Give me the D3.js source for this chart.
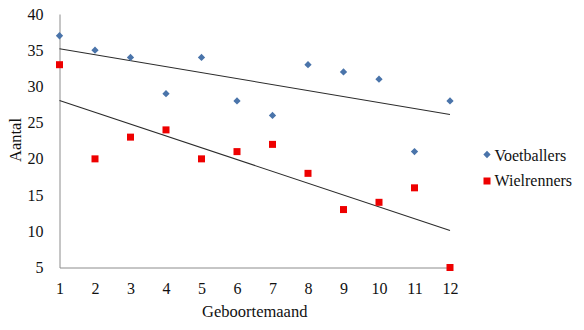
<!DOCTYPE html>
<html>
<head>
<meta charset="utf-8">
<script src="https://cdn.jsdelivr.net/npm/d3@7"></script>
<style>
  html, body { margin: 0; padding: 0; background: #fff; }
  svg { display: block; }
</style>
</head>
<body>
<svg id="chart" width="584" height="330"></svg>
<script>
// Birth month (1–12) of footballers and cyclists
const months = [1, 2, 3, 4, 5, 6, 7, 8, 9, 10, 11, 12];
const voetballers = [37, 35, 34, 29, 34, 28, 26, 33, 32, 31, 21, 28];
const wielrenners = [33, 20, 23, 24, 20, 21, 22, 18, 13, 14, 16, 5];
const yTicks = [5, 10, 15, 20, 25, 30, 35, 40];
const seriesNames = ["Voetballers", "Wielrenners"];

const FONT = "Liberation Serif";
const svg = d3.select("#chart");
const x = d3.scaleLinear().domain([1, 12]).range([59.5, 450]);
const y = d3.scaleLinear().domain([5, 40]).range([267.5, 14]);

// Least-squares trendline endpoints
function trend(xs, ys) {
  const mx = d3.mean(xs), my = d3.mean(ys);
  let sxy = 0, sxx = 0;
  xs.forEach((xv, i) => {
    sxy += (xv - mx) * (ys[i] - my);
    sxx += (xv - mx) ** 2;
  });
  const b = sxy / sxx, a = my - b * mx;
  const x0 = d3.min(xs), x1 = d3.max(xs);
  return [[x0, a + b * x0], [x1, a + b * x1]];
}

// Axes
const yAxis = d3.axisLeft(y).tickValues(yTicks).tickSize(0).tickPadding(16);
const xAxis = d3.axisBottom(x).tickValues(months).tickSize(0).tickPadding(15);

const gy = svg.append("g").attr("transform", `translate(${x(1)},0)`).call(yAxis);
const gx = svg.append("g").attr("transform", `translate(0,${y(5)})`).call(xAxis);
[gx, gy].forEach(g => {
  g.attr("font-family", FONT).attr("font-size", 16);
  g.select(".domain").attr("stroke", "#8c8c8c").attr("stroke-width", 1);
  g.selectAll("text")
    .style("font-family", FONT)
    .style("font-size", "16px")
    .attr("fill", "#111");
});

// Trendlines
const line = d3.line().x(d => x(d[0])).y(d => y(d[1]));
[voetballers, wielrenners].forEach(vals => {
  svg.append("path")
    .attr("d", line(trend(months, vals)))
    .attr("fill", "none")
    .attr("stroke", "#2b2b2b")
    .attr("stroke-width", 1.1);
});

// Points
const diamond = d3.symbol().type(d3.symbolDiamond2).size(34);
svg.append("g").selectAll("path")
  .data(months.map((m, i) => [m, voetballers[i]]))
  .join("path")
  .attr("d", diamond)
  .attr("transform", d => `translate(${x(d[0])},${y(d[1])})`)
  .attr("fill", "#4a74aa");

const sq = 7;
svg.append("g").selectAll("rect")
  .data(months.map((m, i) => [m, wielrenners[i]]))
  .join("rect")
  .attr("x", d => x(d[0]) - sq / 2)
  .attr("y", d => y(d[1]) - sq / 2)
  .attr("width", sq)
  .attr("height", sq)
  .attr("fill", "#ee0000");

// Axis titles
svg.append("text")
  .attr("x", (x(1) + x(12)) / 2)
  .attr("y", 316.5)
  .attr("text-anchor", "middle")
  .style("font-family", FONT)
  .style("font-size", "16.5px")
  .attr("fill", "#111")
  .text("Geboortemaand");

svg.append("text")
  .attr("transform", "translate(20.5,140) rotate(-90)")
  .attr("text-anchor", "middle")
  .style("font-family", FONT)
  .style("font-size", "16.5px")
  .attr("fill", "#111")
  .text("Aantal");

// Legend
const legend = svg.append("g");
legend.append("path")
  .attr("d", diamond)
  .attr("transform", "translate(487,154.5)")
  .attr("fill", "#4a74aa");
legend.append("rect")
  .attr("x", 487 - sq / 2).attr("y", 181 - sq / 2)
  .attr("width", sq).attr("height", sq)
  .attr("fill", "#ee0000");
legend.selectAll("text")
  .data(seriesNames)
  .join("text")
  .attr("x", 494.5)
  .attr("y", (d, i) => 160.5 + i * 25)
  .style("font-family", FONT)
  .style("font-size", "16px")
  .attr("fill", "#111")
  .text(d => d);
</script>
</body>
</html>
